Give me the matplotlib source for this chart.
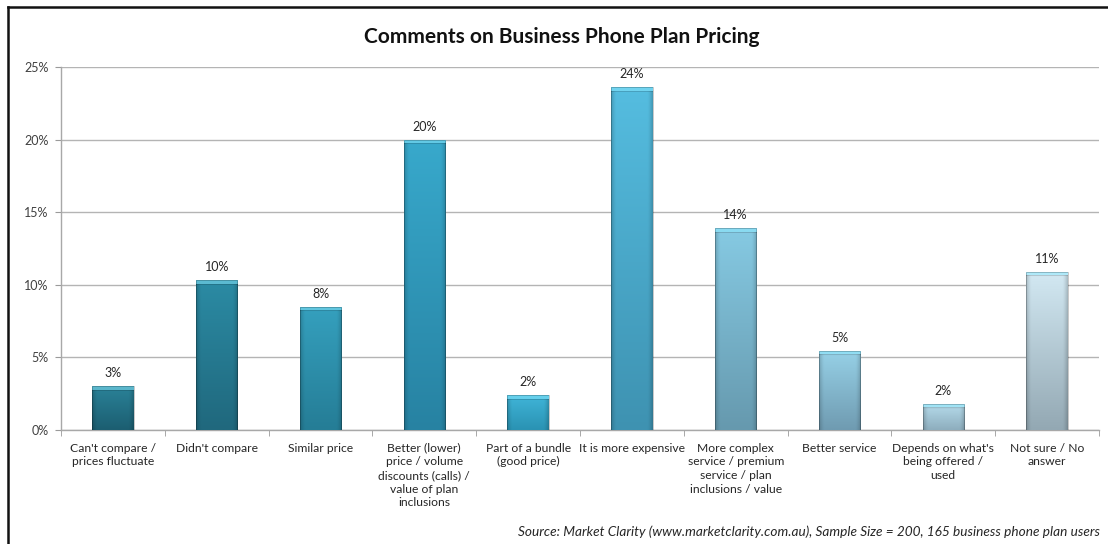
import numpy as np
import matplotlib
matplotlib.use("Agg")
import matplotlib.pyplot as plt
from matplotlib.colors import to_rgb
from matplotlib.patches import Rectangle
from matplotlib.lines import Line2D

plt.rcParams['font.family'] = ['Lato', 'DejaVu Sans']

title = "Comments on Business Phone Plan Pricing"
categories = [
    "Can't compare /\nprices fluctuate",
    "Didn't compare",
    "Similar price",
    "Better (lower)\nprice / volume\ndiscounts (calls) /\nvalue of plan\ninclusions",
    "Part of a bundle\n(good price)",
    "It is more expensive",
    "More complex\nservice / premium\nservice / plan\ninclusions / value",
    "Better service",
    "Depends on what's\nbeing offered /\nused",
    "Not sure / No\nanswer",
]
# share of respondents, in percent
values = [3.0, 10.3, 8.48, 20.0, 2.4, 23.6, 13.9, 5.45, 1.8, 10.9]
y_ticks = [0, 5, 10, 15, 20, 25]
source = ("Source: Market Clarity (www.marketclarity.com.au), Sample Size = 200, "
          "165 business phone plan users")

# top / bottom shade of each bar
top_colors = ["#2a8298", "#2b8ba4", "#35a0be", "#38a9cc", "#40b5d8",
              "#55bde0", "#86cae3", "#97d1e7", "#b6dcec", "#d3e9f3"]
bottom_colors = ["#1c5e71", "#20687d", "#257d96", "#2782a2", "#2a93b3",
                 "#3e92b1", "#6699ae", "#6f9bb1", "#8eaebe", "#93a8b3"]

W, H = 1108, 544
fig = plt.figure(figsize=(W / 100, H / 100), dpi=100)
ax = fig.add_axes([61 / W, 1 - 430 / H, (1099 - 61) / W, (430 - 67) / H])

x = np.arange(len(values))
bar_w = 0.40
bars = ax.bar(x, values, width=bar_w, color="none", edgecolor="none", zorder=3)

ax.set_xlim(-0.5, len(values) - 0.5)
ax.set_ylim(0, 25)

px_per_unit = (430 - 67) / 25.0
for i, (rect, v, ct, cb) in enumerate(zip(bars, values, top_colors, bottom_colors)):
    x0 = rect.get_x()
    x1 = x0 + rect.get_width()
    nrow = max(int(round(v * px_per_unit)), 2)
    ncol = 40
    t = np.linspace(0, 1, nrow)[:, None, None]
    col = (1 - t) * np.array(to_rgb(ct)) + t * np.array(to_rgb(cb))
    col = np.repeat(col, ncol, axis=1)
    # darker bevel towards the side edges
    u = np.linspace(-1, 1, ncol)
    side = 1 - 0.18 * np.clip((np.abs(u) - 0.75) / 0.25, 0, 1) ** 1.5
    col = col * side[None, :, None]
    # bright cyan cap along the top edge
    cap = min(4, nrow // 2)
    hl = np.array(to_rgb(ct)) * 0.5 + 0.5 * np.array([0.55, 0.92, 1.0])
    col[:cap] = hl
    col[cap:cap + 1] = col[cap:cap + 1] * 0.85
    img = ax.imshow(np.clip(col, 0, 1), extent=(x0, x1, 0, v), aspect="auto",
                    origin="upper", zorder=3, interpolation="bilinear")
    img.set_clip_path(rect)
    ax.add_patch(Rectangle((x0, 0), x1 - x0, v, fill=False,
                           edgecolor=(0, 0, 0, 0.25), linewidth=0.6, zorder=4))
    ax.annotate(f"{v:.0f}%", (x[i], v),
                xytext=(0, 5), textcoords="offset points",
                ha="center", va="bottom", fontsize=9, color="#262626")

ax.set_xticks(x)
ax.set_xticklabels(categories, fontsize=8.7, color="#262626", linespacing=1.3)
ax.set_xticks(np.arange(len(values) + 1) - 0.5, minor=True)
ax.tick_params(axis="x", which="major", length=0, pad=9)
ax.tick_params(axis="x", which="minor", length=4, color="#9a9a9a", direction="out")

ax.set_yticks(y_ticks)
ax.set_yticklabels([f"{t}%" for t in y_ticks], fontsize=9, color="#404040")
ax.tick_params(axis="y", length=4, color="#9a9a9a", direction="out", pad=5)

ax.grid(axis="y", color="#b4b4b4", linewidth=1.0, zorder=0)
ax.set_axisbelow(True)
for s in ["top", "right"]:
    ax.spines[s].set_visible(False)
for s in ["left", "bottom"]:
    ax.spines[s].set_color("#a8a8a8")
    ax.spines[s].set_linewidth(1.0)

fig.text(562 / W, 1 - 37 / H, title, ha="center", va="center",
         fontsize=15, fontweight="bold", color="#111111")
fig.text(1100 / W, 1 - 532 / H, source, ha="right", va="center",
         fontsize=9.8, style="italic", color="#262626")

# frame edges along the top and left
fig.add_artist(Line2D([8 / W, 1.0], [1 - 7 / H, 1 - 7 / H],
                      transform=fig.transFigure, color="#111111", linewidth=1.8))
fig.add_artist(Line2D([8 / W, 8 / W], [0.0, 1 - 7 / H],
                      transform=fig.transFigure, color="#111111", linewidth=1.8))

fig.savefig("out.png", dpi=100, facecolor="white")
